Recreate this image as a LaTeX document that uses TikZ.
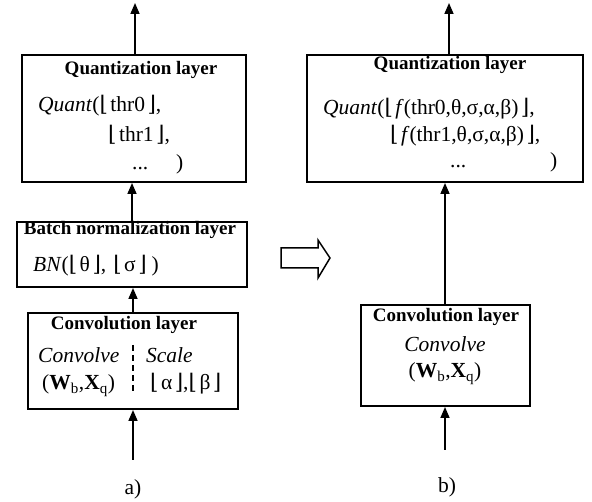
\documentclass[tikz,border=0pt]{standalone}
\usepackage{fontspec}
\setmainfont{Liberation Serif}
\newfontfamily\flfont{DejaVu Serif}
\usetikzlibrary{arrows.meta}
\newcommand{\lfl}{{\flfont ⌊}\hspace{2.5pt}}
\newcommand{\rfl}{\hspace{2.5pt}{\flfont ⌋}}

\begin{document}
\begin{tikzpicture}[x=1pt,y=-1pt,
	layer/.style={draw, line width=2pt, inner sep=0pt},
	flow/.style={-{Triangle[width=9pt,length=11pt]}, line width=1.6pt},
	txt/.style={anchor=base west, inner sep=0pt, font=\fontsize{21.5}{24}\selectfont},
	ttl/.style={anchor=base, inner sep=0pt, font=\fontsize{19}{22}\selectfont\bfseries}]

	\useasboundingbox (0,0) rectangle (592,502);

	%Left side, a)
	\node [layer, minimum width=224pt, minimum height=127pt](qa) at (134,118.5) {};
	\node [layer, minimum width=230pt, minimum height=65pt](bna) at (132,254.5) {};
	\node [layer, minimum width=210pt, minimum height=96pt](cva) at (133,361) {};
	\coordinate (ina) at (133,460);
	\coordinate (outa) at (135,3);

	\draw [flow] (ina) -- (ina |- cva.south);
	\draw [flow] (cva.north) -- (cva.north |- bna.south);
	\draw [flow] (bna.north) -- (bna.north |- qa.south);
	\draw [flow] (outa |- qa.north) -- (outa);

	\node [ttl](qat) at (141,75) {Quantization layer};
	\node [txt](qa1) at (38,112) {\textit{Quant}(\lfl thr0\rfl,};
	\node [txt](qa2) at (108,142) {\lfl thr1\rfl,};
	\node [txt](qa3) at (132,170) {...};
	\node [txt](qa4) at (176,170) {)};

	\node [ttl](bnat) at (130,235) {Batch normalization layer};
	\node [txt](bna1) at (33,272) {\textit{BN}(\lfl θ\rfl,\hspace{7pt}\lfl σ\rfl\hspace{5pt})};

	\node [ttl](cvat) at (124,330) {Convolution layer};
	\node [txt](cva1) at (38,363) {\textit{Convolve}};
	\node [txt](cva2) at (42,390) {(\textbf{W}\textsubscript{b},\textbf{X}\textsubscript{q})};
	\draw [line width=1.5pt, dash pattern=on 6pt off 4pt] (133,345) -- (133,392);
	\node [txt](cva3) at (146,363) {\textit{Scale}};
	\node [txt](cva4) at (150,390) {\lfl α\rfl,\lfl β\rfl};

	%Hollow arrow between the two
	\draw [line width=1.5pt, line join=miter] (281,248) -- (318,248) -- (318,240) -- (330,258) -- (318,278) -- (318,268) -- (281,268) -- cycle;

	%Right side, b)
	\node [layer, minimum width=276pt, minimum height=127pt](qb) at (445,118.5) {};
	\node [layer, minimum width=169pt, minimum height=101pt](cvb) at (445,355.5) {};
	\coordinate (inb) at (445,450);
	\coordinate (outb) at (449,3);

	\draw [flow] (inb) -- (inb |- cvb.south);
	\draw [flow] (cvb.north) -- (cvb.north |- qb.south);
	\draw [flow] (outb |- qb.north) -- (outb);

	\node [ttl](qbt) at (450,70) {Quantization layer};
	\node [txt](qb1) at (323,115) {\textit{Quant}(\lfl\textit{f}(thr0,θ,σ,α,β)\rfl,};
	\node [txt](qb2) at (390,142) {\lfl\textit{f}(thr1,θ,σ,α,β)\rfl,};
	\node [txt](qb3) at (450,168) {...};
	\node [txt](qb4) at (550,168) {)};

	\node [ttl](cvbt) at (446,322) {Convolution layer};
	\node [txt, anchor=base](cvb1) at (445,352) {\textit{Convolve}};
	\node [txt, anchor=base](cvb2) at (445,378) {(\textbf{W}\textsubscript{b},\textbf{X}\textsubscript{q})};

	\node [txt, anchor=base](la) at (133,495) {a)};
	\node [txt, anchor=base](lb) at (447,493) {b)};

\end{tikzpicture}
\end{document}
